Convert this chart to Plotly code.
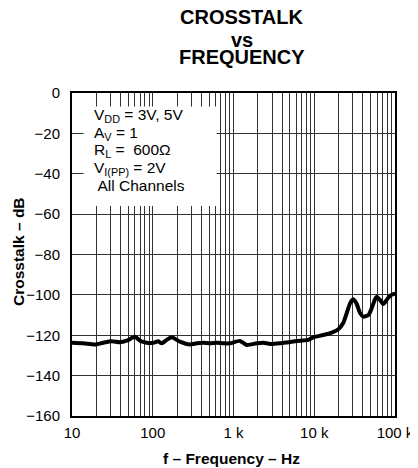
import plotly.graph_objects as go

# ---- data ----
freq_hz = [10, 13.8, 19.3, 24.4, 31, 39.3, 47.5, 60.3, 69.5, 84, 101.7, 117, 129, 149,
           172, 217, 289, 350, 423, 512, 619, 748, 905, 1202, 1455, 1936, 2339, 2831,
           3765, 5010, 6665, 8440, 9730, 12940, 16430, 19870, 22920, 25230, 27750,
           30500, 33560, 36900, 40570, 46780, 51440, 56530, 59290, 65190, 71680,
           78830, 86700, 95300, 100000]
crosstalk_db = [-123.7, -124.0, -124.6, -123.7, -123.0, -123.5, -122.7, -120.7, -122.7,
                -123.7, -123.7, -123.0, -124.0, -122.3, -121.0, -123.2, -124.6, -124.0,
                -123.7, -124.0, -123.7, -124.0, -124.0, -122.8, -124.8, -124.0, -123.7,
                -124.3, -124.0, -123.3, -122.7, -122.3, -121.0, -119.9, -118.7, -117.0,
                -113.8, -109.1, -104.2, -102.2, -104.5, -109.0, -110.8, -110.0, -106.6,
                -102.2, -100.9, -102.5, -104.5, -102.5, -100.5, -99.6, -99.5]

x_tick_vals = [10, 100, 1000, 10000, 100000]
x_tick_text = ["10", "100", "1 k", "10 k", "100 k"]
x_minor_vals = [m * d for d in (10, 100, 1000, 10000) for m in range(2, 10)]
y_tick_vals = [0, -20, -40, -60, -80, -100, -120, -140, -160]
y_tick_text = ["0", "\u221220", "\u221240", "\u221260", "\u221280", "\u2212100",
               "\u2212120", "\u2212140", "\u2212160"]

title_lines = ["CROSSTALK", "vs", "FREQUENCY"]
cond_lines = ["V<sub>DD</sub> = 3V, 5V", "A<sub>V</sub> = 1", "R<sub>L</sub> =  600\u03a9",
              "V<sub>I(PP)</sub> = 2V", " All Channels"]

# page body margin offsets the figure by 8 px; layout measured in window pixels
OFF = 8
WIN_W, WIN_H = 418, 468
W, H = WIN_W - OFF, WIN_H - OFF
PL, PR, PT, PB = 72, 395, 93, 416          # plot box in window pixels
L, T = PL - OFF, PT - OFF
R, B = W - (PR - OFF), H - (PB - OFF)
PW, PH = PR - PL, PB - PT

def px(x):
    return (x - PL) / PW

def py(y):
    return (PB - y) / PH

FONT = "Liberation Sans, Arial, sans-serif"

fig = go.Figure()
fig.add_trace(go.Scatter(x=freq_hz, y=crosstalk_db, mode="lines",
                         line=dict(color="black", width=4, shape="spline", smoothing=0.6),
                         showlegend=False, hoverinfo="skip"))

grid_col = "#333333"
fig.update_xaxes(type="log", range=[1, 5], tickvals=x_tick_vals, ticktext=x_tick_text,
                 showgrid=True, gridcolor=grid_col, gridwidth=1,
                 minor=dict(tickvals=x_minor_vals, showgrid=True, gridcolor=grid_col, gridwidth=1),
                 showline=True, linecolor="black", linewidth=2, mirror=True,
                 ticks="", ticklabelstandoff=2, zeroline=False,
                 tickfont=dict(family=FONT, size=15, color="black"))
fig.update_yaxes(range=[-160, 0], tickvals=y_tick_vals, ticktext=y_tick_text,
                 showgrid=True, gridcolor=grid_col, gridwidth=1,
                 showline=True, linecolor="black", linewidth=2, mirror=True,
                 ticks="", ticklabelstandoff=7, zeroline=False,
                 tickfont=dict(family=FONT, size=15, color="black"))

shapes = [dict(type="rect", xref="paper", yref="paper",
               x0=px(83.5), x1=px(216.5), y0=py(206), y1=py(106.5),
               fillcolor="white", line=dict(width=0), layer="above")]

ann = []
for t, yc in zip(title_lines, [17.2, 39.5, 57.3]):
    ann.append(dict(text="<b>%s</b>" % t, xref="paper", yref="paper", x=px(241.7), y=py(yc),
                    xanchor="center", yanchor="middle", showarrow=False,
                    font=dict(family=FONT, size=20, color="black")))
for t, yc in zip(cond_lines, [115, 133, 150.5, 168, 185.4]):
    ann.append(dict(text=t, xref="paper", yref="paper", x=px(92), y=py(yc),
                    xanchor="left", yanchor="middle", showarrow=False,
                    font=dict(family=FONT, size=15.5, color="black")))
ann.append(dict(text="<b>f \u2013 Frequency \u2013 Hz</b>", xref="paper", yref="paper",
                x=px(231), y=py(458.5), xanchor="center", yanchor="middle", showarrow=False,
                font=dict(family=FONT, size=15.5, color="black")))
ann.append(dict(text="<b>Crosstalk \u2013 dB</b>", xref="paper", yref="paper",
                x=px(18), y=py(252), xanchor="center", yanchor="middle", showarrow=False,
                textangle=-90, font=dict(family=FONT, size=15.5, color="black")))

fig.update_layout(width=W, height=H, margin=dict(l=L, r=R, t=T, b=B, autoexpand=False),
                  paper_bgcolor="white", plot_bgcolor="white",
                  shapes=shapes, annotations=ann, font=dict(family=FONT))

fig.write_html("out.html")
